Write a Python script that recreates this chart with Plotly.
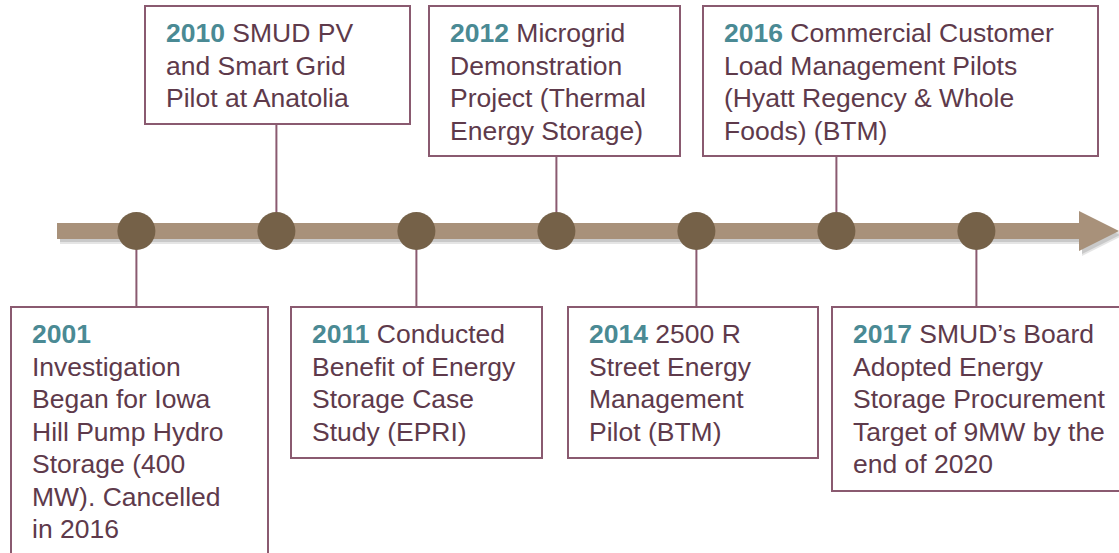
import plotly.graph_objects as go

# timeline events (left to right)
YEARS = ["2001", "2010", "2011", "2012", "2014", "2016", "2017"]
DESCRIPTIONS = [
    ["", "Investigation", "Began for Iowa", "Hill Pump Hydro", "Storage (400", "MW). Cancelled", "in 2016"],
    ["SMUD PV", "and Smart Grid", "Pilot at Anatolia"],
    ["Conducted", "Benefit of Energy", "Storage Case", "Study (EPRI)"],
    ["Microgrid", "Demonstration", "Project (Thermal", "Energy Storage)"],
    ["2500 R", "Street Energy", "Management", "Pilot (BTM)"],
    ["Commercial Customer", "Load Management Pilots", "(Hyatt Regency &amp; Whole", "Foods) (BTM)"],
    ["SMUD’s Board", "Adopted Energy", "Storage Procurement", "Target of 9MW by the", "end of 2020"],
]

# layout (pixels)
W, H = 1119, 553
TIMELINE_Y = 231
SLOT_X0, SLOT_STEP = 136.4, 140.0
BOX_LEFT = [11, 145, 291, 429, 568, 703, 832]
BOX_RIGHT = [268, 410, 542, 680, 818, 1098, 1130]
BOX_TOP = [307, 6, 307, 6, 307, 6, 307]
BOX_BOTTOM = [570, 124, 458, 156, 458, 156, 491]

TEXT_COLOR = "#5e3a4b"
YEAR_COLOR = "#4a8a94"
BORDER_COLOR = "#8a5a70"
BAR_COLOR = "#a8917a"
DOT_COLOR = "#756148"
FONT = "Arial, Liberation Sans, sans-serif"
FONT_SIZE = 26.5
LINE_STEP = 32.5


def px(x):
    return x / W


slots = list(range(len(YEARS)))

fig = go.Figure()
fig.add_trace(go.Scatter(
    x=slots,
    y=[TIMELINE_Y] * len(slots),
    mode="markers",
    marker=dict(size=38, color=DOT_COLOR, line=dict(width=0)),
    hoverinfo="skip",
    showlegend=False,
))

shapes = []
# shadow + bar + arrow head
for dy, alpha in [(5, 0.10), (3, 0.12)]:
    shapes.append(dict(type="line", xref="paper", yref="y", layer="below",
                       x0=px(60), x1=px(1085), y0=TIMELINE_Y + dy, y1=TIMELINE_Y + dy,
                       line=dict(color=f"rgba(0,0,0,{alpha})", width=16)))
    shapes.append(dict(type="path", xref="paper", yref="y", layer="below",
                       path=f"M {px(1082)},{211 + dy} L {px(1122)},{231 + dy} L {px(1082)},{251 + dy} Z",
                       fillcolor=f"rgba(0,0,0,{alpha})", line=dict(width=0)))
shapes.append(dict(type="line", xref="paper", yref="y", layer="below",
                   x0=px(57), x1=px(1082), y0=TIMELINE_Y, y1=TIMELINE_Y,
                   line=dict(color=BAR_COLOR, width=16)))
shapes.append(dict(type="path", xref="paper", yref="y", layer="below",
                   path=f"M {px(1079)},211 L {px(1119)},231 L {px(1079)},251 Z",
                   fillcolor=BAR_COLOR, line=dict(width=0)))

annotations = []
for i, (year, lines) in enumerate(zip(YEARS, DESCRIPTIONS)):
    below = BOX_TOP[i] > TIMELINE_Y
    # connector from dot to box
    shapes.append(dict(type="line", xref="x", yref="y", layer="below",
                       x0=slots[i], x1=slots[i], y0=TIMELINE_Y,
                       y1=BOX_TOP[i] if below else BOX_BOTTOM[i],
                       line=dict(color=BORDER_COLOR, width=2)))
    # box
    shapes.append(dict(type="rect", xref="paper", yref="y", layer="below",
                       x0=px(BOX_LEFT[i]), x1=px(BOX_RIGHT[i]),
                       y0=BOX_TOP[i], y1=BOX_BOTTOM[i],
                       line=dict(color=BORDER_COLOR, width=2), fillcolor="rgba(0,0,0,0)"))
    # text lines
    for j, line in enumerate(lines):
        if j == 0:
            txt = f"<b><span style='color:{YEAR_COLOR}'>{year}</span></b>"
            if line:
                txt += " " + line
        else:
            txt = line
        annotations.append(dict(
            x=px(BOX_LEFT[i] + 19), xref="paper", xanchor="left",
            y=BOX_TOP[i] + 27 + j * LINE_STEP, yref="y", yanchor="middle",
            text=txt, showarrow=False, align="left",
            font=dict(family=FONT, size=FONT_SIZE, color=TEXT_COLOR),
        ))

fig.update_layout(
    width=W, height=H,
    margin=dict(l=0, r=0, t=0, b=0),
    paper_bgcolor="white",
    plot_bgcolor="white",
    xaxis=dict(range=[-SLOT_X0 / SLOT_STEP, (W - SLOT_X0) / SLOT_STEP],
               visible=False, fixedrange=True),
    yaxis=dict(range=[H, 0], visible=False, fixedrange=True),
    shapes=shapes,
    annotations=annotations,
    showlegend=False,
)

# drop the default page margin so the figure fills the window exactly
fig.write_html(
    "out.html",
    config={"displayModeBar": False},
    post_script="document.body.style.margin='0';document.body.style.overflow='hidden';",
)
